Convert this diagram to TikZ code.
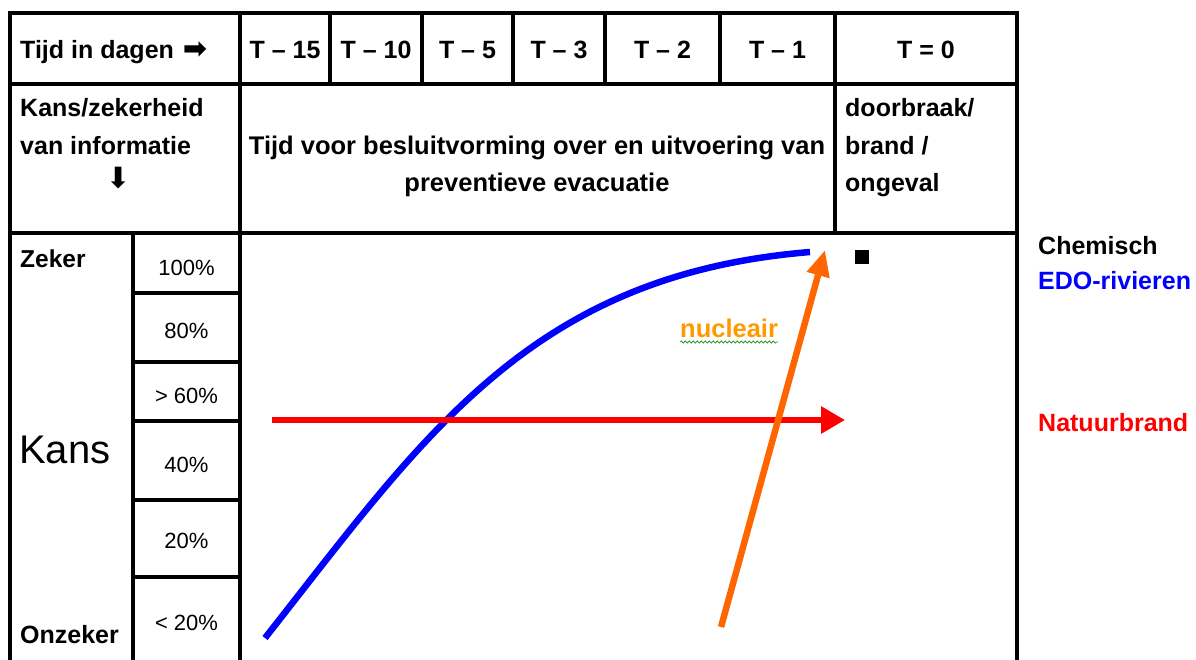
\documentclass[tikz,border=0pt]{standalone}
\usepackage{fontspec}
\setmainfont{Liberation Sans}
\newfontfamily\dejavu{DejaVu Sans}
\usetikzlibrary{decorations.pathmorphing,arrows.meta}
\definecolor{edoblue}{HTML}{0000FF}
\definecolor{firered}{HTML}{FF0000}
\definecolor{nucorange}{HTML}{FF6600}
\definecolor{nuctext}{HTML}{FF9900}
\definecolor{spellgreen}{HTML}{339933}
\begin{document}
\begin{tikzpicture}[x=1pt,y=-1pt,
  grid/.style={line width=3.5pt,line cap=rect},
  hdr/.style={font=\fontsize{25}{25}\selectfont\bfseries,inner sep=0pt,anchor=base},
  hdrw/.style={hdr,anchor=base west},
  pct/.style={font=\fontsize{22}{22}\selectfont,inner sep=0pt,anchor=base},
  side/.style={font=\fontsize{25}{25}\selectfont\bfseries,inner sep=0pt,anchor=base west},
  curve/.style={line width=6.5pt}]
\useasboundingbox (0,0) rectangle (1196,659);
\clip (0,0) rectangle (1196,659);
% table grid
\draw[grid] (10,670) -- (10,13) -- (1017,13) -- (1017,670);
\draw[grid] (10,84) -- (1017,84);
\draw[grid] (10,233) -- (1017,233);
\draw[grid] (240,13) -- (240,670);
\foreach \x in {330,422,513,605,720} \draw[grid] (\x,13) -- (\x,84);
\draw[grid] (835,13) -- (835,233);
\draw[grid] (133,233) -- (133,670);
\foreach \y in {293,362,421,500,577} \draw[grid] (133,\y) -- (240,\y);
% row 1
\node[hdrw] (tijd) at (20,58) {Tijd in dagen\hspace{9pt}{\dejavu\fontsize{29}{29}\selectfont ➡}};
\node[hdr] (t15) at (285,58) {T – 15};
\node[hdr] (t10) at (376,58) {T – 10};
\node[hdr] (t5) at (467.5,58) {T – 5};
\node[hdr] (t3) at (559,58) {T – 3};
\node[hdr] (t2) at (662.5,58) {T – 2};
\node[hdr] (t1) at (777.5,58) {T – 1};
\node[hdr] (t0) at (926,58) {T = 0};
% row 2
\node[hdrw] (kz1) at (20,116) {Kans/zekerheid};
\node[hdrw] (kz2) at (20,154) {van informatie};
\node[anchor=center,inner sep=0pt] (kzarrow) at (118,178) {\dejavu\fontsize{29}{29}\selectfont\rotatebox[origin=c]{-90}{➡}};
\node[hdr,font=\fontsize{25.5}{25.5}\selectfont\bfseries] (besl1) at (537,154) {Tijd voor besluitvorming over en uitvoering van};
\node[hdr,font=\fontsize{25.5}{25.5}\selectfont\bfseries] (besl2) at (537,191) {preventieve evacuatie};
\node[hdrw] (db1) at (845,116) {doorbraak/};
\node[hdrw] (db2) at (845,154) {brand /};
\node[hdrw] (db3) at (845,191) {ongeval};
% left column
\node[hdrw,font=\fontsize{24.5}{24.5}\selectfont\bfseries] (zeker) at (20,267) {Zeker};
\node[anchor=base west,inner sep=0pt,font=\fontsize{40}{40}\selectfont] (kans) at (19,463) {Kans};
\node[hdrw,font=\fontsize{25}{25}\selectfont\bfseries] (onzeker) at (20,643) {Onzeker};
\node[pct] (p100) at (186.5,275) {100\%};
\node[pct] (p80) at (186.5,338) {80\%};
\node[pct] (p60) at (186.5,403) {> 60\%};
\node[pct] (p40) at (186.5,472) {40\%};
\node[pct] (p20) at (186.5,548) {20\%};
\node[pct] (plt20) at (186.5,630) {< 20\%};
% right labels
\node[side] (chem) at (1038,254) {Chemisch};
\node[side,text=edoblue] (edo) at (1038,289) {EDO-rivieren};
\node[side,text=firered] (natuur) at (1038,431) {Natuurbrand};
% chart
\node[fill=black,minimum size=14pt,inner sep=0pt] (sq) at (862,257) {};
\coordinate (blueS) at (265,638);
\coordinate (blueE) at (810,252);
\draw[curve,edoblue] (blueS) .. controls (425,435) and (530,275) .. (blueE);
\coordinate (redS) at (272,420);
\coordinate (redE) at (845,420);
\draw[curve,firered,-{Triangle[length=24pt,width=26pt]}] (redS) -- (redE);
\coordinate (orS) at (721,627);
\coordinate (orE) at (825,250);
\draw[curve,nucorange,-{Triangle[length=26pt,width=22pt]}] (orS) -- (orE);
\node[anchor=base west,inner sep=0pt,font=\fontsize{25.5}{25.5}\selectfont\bfseries,text=nuctext] (nuc) at (680,337) {nucleair};
\draw[spellgreen,line width=0.8pt,decorate,decoration={snake,amplitude=1pt,segment length=4pt}] ([yshift=-5pt]nuc.base west) -- ([yshift=-5pt]nuc.base east);
\end{tikzpicture}
\end{document}
